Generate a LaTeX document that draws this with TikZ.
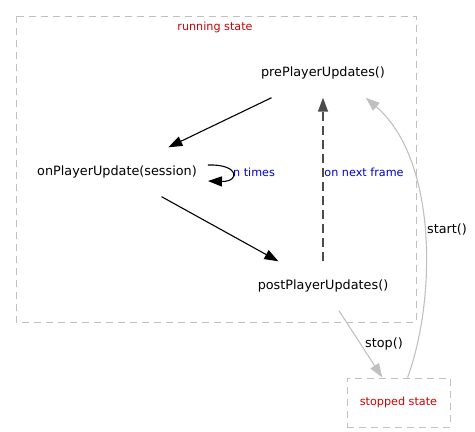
\documentclass[tikz,border=0pt]{standalone}
\usepackage{fontspec}
\setmainfont{DejaVu Sans}
\usepackage{xcolor}
\usetikzlibrary{arrows.meta}
\definecolor{stred}{HTML}{CC0000}
\definecolor{stblue}{HTML}{0000CC}
\definecolor{stgray}{HTML}{C0C0C0}

\begin{document}
\begin{tikzpicture}[x=1pt, y=-1pt,
  fnode/.style={font=\fontsize{12.8}{14}\selectfont, minimum height=49pt, inner xsep=11pt},
  edgeblk/.style={draw=black, line width=1.1pt, -{Triangle[length=14pt, width=10pt]}},
  edgegry/.style={draw=stgray, line width=1.1pt, -{Triangle[length=14pt, width=10pt]}},
  edgedash/.style={edgeblk, draw=black!70, line width=1.6pt, dash pattern=on 9pt off 5pt},
  stlabel/.style={font=\fontsize{11.2}{12}\selectfont\color{stred}},
  edlabel/.style={font=\fontsize{11.2}{12}\selectfont\color{stblue}},
]
\useasboundingbox (0,0) rectangle (475,432);
% running state cluster
\draw[stgray, line width=1pt, dash pattern=on 7pt off 5pt] (16,16) rectangle (416,322);
\node[stlabel] (runlbl) at (215,27) {running state};

\node[fnode] (pre) at (323,73) {prePlayerUpdates()};
\node[fnode] (onupd) at (117,172) {onPlayerUpdate(session)};
\node[fnode] (post) at (323,286) {postPlayerUpdates()};

% stopped state
\node[stlabel, draw=stgray, line width=1pt, dash pattern=on 7pt off 5pt,
  minimum width=103pt, minimum height=49pt] (stopped) at (398.5,402.5) {stopped state};

\draw[edgeblk] (pre) -- (onupd);
\draw[edgeblk] (onupd) -- (post);
\draw[edgeblk] ([yshift=7pt]onupd.east) .. controls +(32,-1) and +(32,1) .. ([yshift=-9pt]onupd.east);
\node[edlabel] (ntimes) at (254,172) {n times};
\draw[edgedash] (post) -- (pre);
\node[edlabel] (nextfr) at (364,172) {on next frame};

\draw[edgegry] (post) -- (stopped);
\node[font=\fontsize{12.8}{14}\selectfont] (stoplbl) at (384,344) {stop()};
\draw[edgegry] (stopped.70) .. controls (436,300) and (438,160) .. (pre.-30);
\node[font=\fontsize{12.8}{14}\selectfont] (startlbl) at (447,229) {start()};
\end{tikzpicture}
\end{document}
